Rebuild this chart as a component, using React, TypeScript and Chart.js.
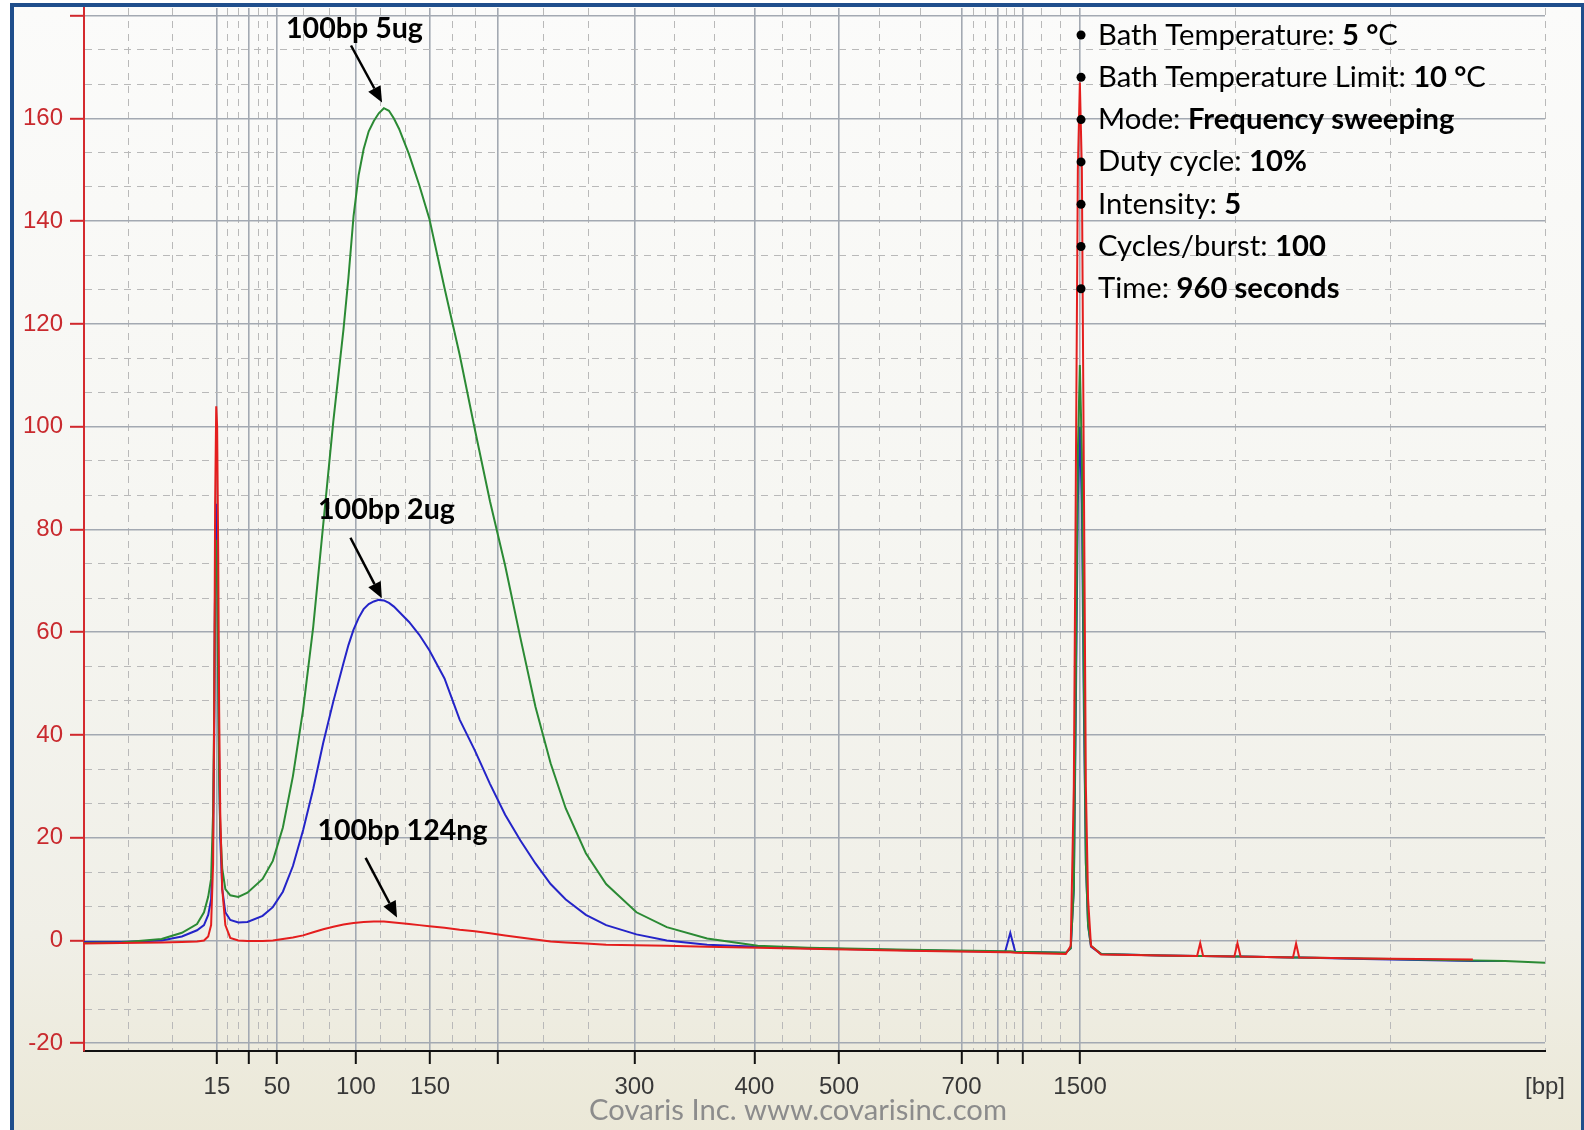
import React, { useEffect, useRef } from "react";
import { Chart, registerables } from "chart.js";

Chart.register(...registerables);

// ---- Data -------------------------------------------------------------
// Migration time (s) of each sample point of the electropherogram
const migrationTime = [
  40.0, 42.04, 44.25, 45.36, 46.19, 46.57, 46.8, 46.96, 47.07, 47.13,
  47.18, 47.24, 47.29, 47.35, 47.4, 47.46, 47.57, 47.74, 48.01, 48.45,
  48.95, 49.78, 50.34, 50.89, 51.44, 52.0, 52.55, 53.1, 53.65, 54.21,
  54.48, 54.76, 55.04, 55.31, 55.59, 55.87, 56.14, 56.42, 56.7, 56.97,
  57.25, 57.8, 58.36, 58.91, 59.74, 60.57, 61.4, 62.23, 63.06, 63.89,
  64.72, 65.55, 66.38, 67.48, 68.59, 70.25, 71.91, 74.12, 76.89, 79.65,
  85.18, 90.44, 90.72, 90.99, 93.76, 94.03, 94.2, 94.31, 94.42, 94.53,
  94.64, 94.75, 94.86, 94.98, 95.14, 95.69, 99.01, 100.95, 101.12, 101.28,
  102.99, 103.16, 103.33, 106.2, 106.37, 106.54, 110.08, 116.05, 117.82, 120.0,
];

// 100bp 5ug (green)
const fu5ug = [
  -0.5, -0.4, 0.3, 1.5, 3.2, 5.5, 8.5, 12, 25, 45,
  70, 78, 70, 50, 32, 22, 14, 10, 8.8, 8.5,
  9.3, 12, 15.5, 22, 32, 45, 61, 81, 101, 119,
  129, 141, 149, 154, 157.5, 159.5, 161, 162, 161.5, 160,
  158, 153, 147, 140.5, 127, 114, 99.5, 85.5, 73, 59,
  45.5, 34.5, 25.7, 17, 11, 5.5, 2.6, 0.4, -1, -1.4,
  -1.8, -2.1, -2.1, -2.2, -2.4, -1.5, 10, 50, 95, 112,
  95, 50, 15, 3, -1, -2.6, -2.9, -3.0, -3.0, -3.0,
  -3.1, -3.1, -3.1, -3.3, -3.3, -3.3, -3.5, -3.9, -4.0, -4.3,
];

// 100bp 2ug (blue)
const fu2ug = [
  -0.3, -0.3, 0, 0.8, 2.0, 3.0, 5.0, 8, 20, 40,
  72, 85, 80, 55, 35, 20, 10, 5.5, 4.0, 3.5,
  3.6, 4.8, 6.5, 9.5, 14.5, 21.5, 29.5, 38.5, 46.5, 54,
  57.5, 60.5, 62.8, 64.5, 65.5, 66, 66.3, 66.2, 65.7, 65,
  64, 62, 59.5, 56.5, 51, 43, 37, 30.5, 24.5, 19.5,
  15, 11, 8, 5, 3, 1.2, 0, -0.8, -1.2, -1.5,
  -1.9, -2.2, 1.5, -2.2, -2.4, -1.5, 10, 45, 85, 100,
  85, 45, 15, 3, -1.2, -2.6, -2.9, -3.0, -3.0, -3.0,
  -3.1, -3.1, -3.1, -3.3, -3.3, -3.3, -3.6, -4.0, -4.0, null,
];

// 100bp 124ng (red)
const fu124ng = [
  -0.6, -0.5, -0.4, -0.3, -0.2, 0.0, 0.8, 3, 15, 45,
  85, 104, 100, 75, 45, 25, 10, 3, 0.5, 0.0,
  -0.1, -0.1, 0.0, 0.3, 0.6, 1.0, 1.6, 2.2, 2.7, 3.1,
  3.25, 3.4, 3.5, 3.6, 3.65, 3.7, 3.7, 3.7, 3.6, 3.5,
  3.4, 3.2, 3.0, 2.8, 2.5, 2.1, 1.8, 1.4, 1.0, 0.6,
  0.2, -0.2, -0.4, -0.6, -0.8, -0.9, -1.0, -1.2, -1.4, -1.6,
  -2.0, -2.3, -2.3, -2.4, -2.6, -1.0, 30, 90, 150, 167,
  150, 90, 30, 8, -1.0, -2.7, -2.9, -3.0, -0.5, -3.0,
  -3.1, -0.5, -3.1, -3.3, -0.6, -3.3, -3.5, -3.7, null, null,
];

// DNA 1000 ladder: migration time of each ladder band and its size
const ladderTime = [47.28, 49.01, 50.57, 54.89, 58.95, 62.67, 70.14, 76.71, 81.34, 88.05, 90.05, 91.39, 94.54];
const ladderBp = [15, 25, 50, 100, 150, 200, 300, 400, 500, 700, 850, 1000, 1500];
const labeledBp = [15, 50, 100, 150, 300, 400, 500, 700, 1500];
const xUnitLabel = "[bp]";

// Y axis (fluorescence units)
const yMajorTicks = [-20, 0, 20, 40, 60, 80, 100, 120, 140, 160, 180];
const yLabeledTicks = [-20, 0, 20, 40, 60, 80, 100, 120, 140, 160];

const X_MIN = 40;
const X_MAX = 120;
const Y_MIN = -21.5;
const Y_MAX = 181.5;

// Peak annotations (data coordinates)
const peakLabels = ["100bp 5ug", "100bp 2ug", "100bp 124ng"];
const peakLabelTime = [54.81, 56.56, 57.44];
const peakLabelValue = [175.6, 82.0, 19.65];
const arrowFromTime = [54.62, 54.59, 55.42];
const arrowFromValue = [174.2, 78.4, 16.1];
const arrowToTime = [56.32, 56.31, 57.14];
const arrowToValue = [163.1, 66.6, 4.5];

// Settings list
const settingNames = [
  "Bath Temperature: ",
  "Bath Temperature Limit: ",
  "Mode: ",
  "Duty cycle: ",
  "Intensity: ",
  "Cycles/burst: ",
  "Time: ",
];
const settingValues = ["5 °", "10 °", "Frequency sweeping", "10%", "5", "100", "960 seconds"];
const settingSuffix = ["C", "C", "", "", "", "", ""];

const watermark = "Covaris Inc. www.covarisinc.com";

// ---- Rendering --------------------------------------------------------
const W = 1584;
const H = 1130;
const TEXT_FAMILY = "Lato, 'Open Sans', sans-serif";
const AXIS_FAMILY = "'Liberation Sans', Arial, sans-serif";

type Part = [string, boolean];

function partsWidth(ctx: CanvasRenderingContext2D, parts: Part[], size: number) {
  let w = 0;
  for (const [t, b] of parts) {
    ctx.font = `${b ? "bold " : ""}${size}px ${TEXT_FAMILY}`;
    w += ctx.measureText(t).width;
  }
  return w;
}
function fitSize(ctx: CanvasRenderingContext2D, parts: Part[], target: number) {
  return (100 * target) / partsWidth(ctx, parts, 100);
}
function drawParts(ctx: CanvasRenderingContext2D, parts: Part[], x: number, y: number, size: number) {
  let cx = x;
  for (const [t, b] of parts) {
    ctx.font = `${b ? "bold " : ""}${size}px ${TEXT_FAMILY}`;
    ctx.fillText(t, cx, y);
    cx += ctx.measureText(t).width;
  }
}
function drawArrow(ctx: CanvasRenderingContext2D, x1: number, y1: number, x2: number, y2: number) {
  const ang = Math.atan2(y2 - y1, x2 - x1);
  const head = 16;
  const half = 7;
  const bx = x2 - head * Math.cos(ang);
  const by = y2 - head * Math.sin(ang);
  ctx.strokeStyle = "#000";
  ctx.fillStyle = "#000";
  ctx.lineWidth = 2.5;
  ctx.beginPath();
  ctx.moveTo(x1, y1);
  ctx.lineTo(bx, by);
  ctx.stroke();
  ctx.beginPath();
  ctx.moveTo(x2, y2);
  ctx.lineTo(bx + half * Math.sin(ang), by - half * Math.cos(ang));
  ctx.lineTo(bx - half * Math.sin(ang), by + half * Math.cos(ang));
  ctx.closePath();
  ctx.fill();
}

const annotationPlugin = {
  id: "electroAnnotations",
  afterDatasetsDraw(chart: any) {
    const { ctx, scales, chartArea } = chart;
    const xs = scales.x;
    const ys = scales.y;
    ctx.save();
    ctx.textBaseline = "alphabetic";

    // peak labels + arrows
    const peakSize = fitSize(ctx, [[peakLabels[0], true]], 137);
    ctx.textAlign = "center";
    for (let i = 0; i < peakLabels.length; i++) {
      ctx.fillStyle = "#000";
      ctx.font = `bold ${peakSize}px ${TEXT_FAMILY}`;
      ctx.fillText(peakLabels[i], xs.getPixelForValue(peakLabelTime[i]), ys.getPixelForValue(peakLabelValue[i]));
      drawArrow(
        ctx,
        xs.getPixelForValue(arrowFromTime[i]),
        ys.getPixelForValue(arrowFromValue[i]),
        xs.getPixelForValue(arrowToTime[i]),
        ys.getPixelForValue(arrowToValue[i])
      );
    }

    // settings list
    ctx.textAlign = "left";
    const ref: Part[] = [[settingNames[1], false], [settingValues[1], true], [settingSuffix[1], false]];
    const listSize = fitSize(ctx, ref, 388);
    const bulletX = xs.getPixelForValue(ladderTime[ladderTime.length - 1]) + 1;
    const textX = bulletX + 17;
    const baseY = chartArea.top + 36.5;
    for (let i = 0; i < settingNames.length; i++) {
      const y = baseY + i * 42.3;
      ctx.fillStyle = "#000";
      ctx.beginPath();
      ctx.arc(bulletX, y - 9.5, 4.5, 0, Math.PI * 2);
      ctx.fill();
      drawParts(ctx, [[settingNames[i], false], [settingValues[i], true], [settingSuffix[i], false]], textX, y, listSize);
    }

    // watermark
    const wmSize = fitSize(ctx, [[watermark, false]], 418);
    ctx.textAlign = "center";
    ctx.fillStyle = "#8c8c8c";
    ctx.font = `${wmSize}px ${TEXT_FAMILY}`;
    ctx.fillText(watermark, 798, 1120);
    ctx.restore();
  },
};

export default function App() {
  const canvasRef = useRef<HTMLCanvasElement | null>(null);

  useEffect(() => {
    const canvas = canvasRef.current;
    if (!canvas) return;

    // grid: solid at ladder/major positions, dashed thirds between them
    const xBounds = [X_MIN, ...ladderTime, X_MAX];
    const xMinor: number[] = [];
    for (let i = 0; i < xBounds.length - 1; i++) {
      const a = xBounds[i];
      const b = xBounds[i + 1];
      xMinor.push(a + (b - a) / 3, a + (2 * (b - a)) / 3);
    }
    const xTicks = [...ladderTime, ...xMinor, X_MAX].sort((a, b) => a - b);
    const yMinor: number[] = [];
    for (let i = 0; i < yMajorTicks.length - 1; i++) {
      const a = yMajorTicks[i];
      const b = yMajorTicks[i + 1];
      yMinor.push(a + (b - a) / 3, a + (2 * (b - a)) / 3);
    }
    const yTicks = [...yMajorTicks, ...yMinor].sort((a, b) => a - b);

    const near = (a: number, b: number) => Math.abs(a - b) < 1e-6;
    const ladderIndex = (v: number) => ladderTime.findIndex((t) => near(t, v));
    const isXMajor = (v: number) => ladderIndex(v) >= 0;
    const isYMajor = (v: number) => yMajorTicks.some((t) => near(t, v));

    const MAJOR_GRID = "#a3a9b2";
    const MINOR_GRID = "#b9b9b9";

    const mk = (vals: (number | null)[]) => migrationTime.map((t, i) => ({ x: t, y: vals[i] }));

    const chart = new Chart(canvas, {
      type: "line",
      data: {
        datasets: [
          { label: "100bp 2ug", data: mk(fu2ug), borderColor: "#2424c8", borderWidth: 2, pointRadius: 0, order: 3 },
          { label: "100bp 5ug", data: mk(fu5ug), borderColor: "#2b8a34", borderWidth: 2, pointRadius: 0, order: 2 },
          { label: "100bp 124ng", data: mk(fu124ng), borderColor: "#e41e1e", borderWidth: 2, pointRadius: 0, order: 1 },
        ],
      },
      options: {
        animation: false,
        responsive: false,
        devicePixelRatio: 1,
        parsing: false as any,
        spanGaps: false,
        layout: { padding: { left: 0, top: 8, right: 39, bottom: 0 } },
        plugins: { legend: { display: false }, tooltip: { enabled: false } },
        elements: { line: { tension: 0 } },
        scales: {
          x: {
            type: "linear",
            min: X_MIN,
            max: X_MAX,
            afterBuildTicks: (s: any) => {
              s.ticks = xTicks.map((v) => ({ value: v }));
            },
            afterFit: (s: any) => {
              s.height = 79;
              s.paddingLeft = 0;
              s.paddingRight = 0;
            },
            ticks: {
              autoSkip: false,
              maxRotation: 0,
              minRotation: 0,
              padding: 9,
              color: "#383838",
              font: { family: AXIS_FAMILY, size: 24 },
              callback: (v: any) => {
                const val = Number(v);
                if (near(val, X_MAX)) return xUnitLabel;
                const idx = ladderIndex(val);
                if (idx >= 0 && labeledBp.includes(ladderBp[idx])) return String(ladderBp[idx]);
                return "";
              },
            },
            grid: {
              color: (c: any) => (c.tick && isXMajor(c.tick.value) ? MAJOR_GRID : MINOR_GRID),
              lineWidth: (c: any) => (c.tick && isXMajor(c.tick.value) ? 1.6 : 1),
              tickColor: (c: any) => (c.tick && isXMajor(c.tick.value) ? "#111" : "rgba(0,0,0,0)"),
              tickLength: 13,
              tickWidth: 2,
              drawTicks: true,
            },
            border: {
              display: true,
              color: "#111",
              width: 2,
              dash: (c: any) => (c.tick && !isXMajor(c.tick.value) ? [7, 6] : []),
            },
          },
          y: {
            type: "linear",
            min: Y_MIN,
            max: Y_MAX,
            afterBuildTicks: (s: any) => {
              s.ticks = yTicks.map((v) => ({ value: v }));
            },
            afterFit: (s: any) => {
              s.width = 84;
              s.paddingTop = 0;
              s.paddingBottom = 0;
            },
            ticks: {
              autoSkip: false,
              padding: 7,
              color: "#c92a2e",
              font: { family: AXIS_FAMILY, size: 24 },
              callback: (v: any) => {
                const val = Number(v);
                const hit = yLabeledTicks.find((t) => near(t, val));
                return hit === undefined ? "" : String(hit);
              },
            },
            grid: {
              color: (c: any) => (c.tick && isYMajor(c.tick.value) ? MAJOR_GRID : MINOR_GRID),
              lineWidth: (c: any) => (c.tick && isYMajor(c.tick.value) ? 1.6 : 1),
              tickColor: (c: any) => (c.tick && isYMajor(c.tick.value) ? "#d0282d" : "rgba(0,0,0,0)"),
              tickLength: 14,
              tickWidth: 2,
              drawTicks: true,
            },
            border: {
              display: true,
              color: "#d42a2e",
              width: 2,
              dash: (c: any) => (c.tick && !isYMajor(c.tick.value) ? [7, 6] : []),
            },
          },
        },
      } as any,
      plugins: [annotationPlugin],
    });

    return () => chart.destroy();
  }, []);

  return (
    <div
      style={{
        position: "fixed",
        left: 0,
        top: 0,
        width: W,
        height: H,
        background: "#ffffff",
        overflow: "hidden",
      }}
    >
      <div
        style={{
          position: "absolute",
          left: 10,
          top: 3,
          width: W - 10 - 4 - 3,
          height: H,
          borderLeft: "4px solid #1f4e8c",
          borderTop: "4px solid #1f4e8c",
          borderRight: "3px solid #1f4e8c",
          background: "linear-gradient(to bottom, #fbfbfa 0%, #f6f6f2 45%, #f0efe7 82%, #ebe8d7 100%)",
        }}
      />
      <canvas
        ref={canvasRef}
        width={W}
        height={H}
        style={{ position: "absolute", left: 0, top: 0, width: W, height: H }}
      />
    </div>
  );
}
